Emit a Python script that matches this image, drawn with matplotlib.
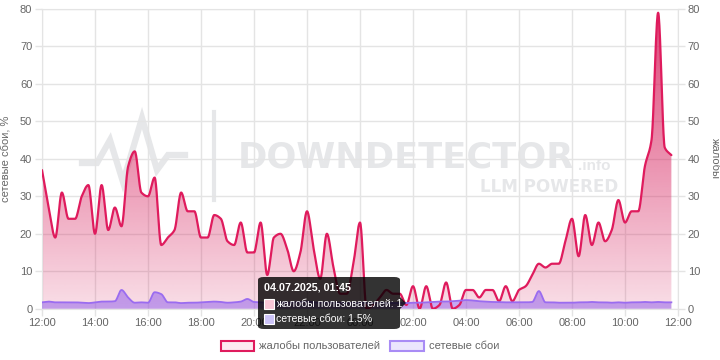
import numpy as np
import matplotlib
matplotlib.use("Agg")
import matplotlib.pyplot as plt
from matplotlib.patches import Patch, FancyBboxPatch, Polygon, Rectangle
from matplotlib.lines import Line2D

# ---------------- data (15-minute steps from 12:00 to 11:45 next day) -------------
complaints = [37, 27, 19, 31, 24, 24, 30, 33, 20, 33, 21, 27, 22, 38, 42, 31,
              30, 35, 17, 19, 21, 31, 26, 26, 19, 19, 25, 24, 18, 17, 23, 15,
              15, 23, 9, 19, 20, 16, 10, 15, 26, 16, 8, 20, 11, 4, 4, 12,
              23, 0, 1, 3, 5, 4, 4, 1, 6, 0, 6, 0, 1, 7, 0, 1,
              5, 5, 3, 5, 5, 2, 6, 2, 5, 6, 9, 12, 11, 12, 12, 18,
              24, 14, 25, 17, 23, 18, 21, 29, 23, 26, 26, 38, 45, 79, 43, 41]
network = [1.7, 1.9, 1.7, 1.7, 1.7, 1.7, 1.6, 1.5, 1.7, 1.9, 1.9, 2.0, 5.0, 3.0, 1.6, 1.7,
           1.6, 4.4, 3.9, 1.7, 1.7, 1.5, 1.6, 1.6, 1.7, 1.8, 1.9, 1.8, 1.6, 1.7, 1.9, 2.6,
           1.8, 1.7, 1.6, 1.7, 1.7, 1.6, 1.7, 1.8, 1.9, 1.7, 1.6, 1.7, 1.6, 1.6, 1.5, 1.6,
           1.6, 1.5, 1.5, 1.5, 1.5, 1.5, 1.5, 1.5, 1.6, 1.6, 1.7, 1.8, 1.9, 1.9, 2.0, 2.1,
           2.3, 2.2, 2.0, 1.9, 1.8, 1.8, 1.7, 1.7, 1.7, 1.7, 1.8, 4.7, 1.7, 1.7, 1.6, 1.6,
           1.6, 1.7, 1.7, 1.8, 1.7, 1.7, 1.6, 1.7, 1.6, 1.7, 1.7, 1.8, 1.7, 1.8, 1.7, 1.7]
step_hours = 0.25
x_tick_labels = ["12:00", "14:00", "16:00", "18:00", "20:00", "22:00", "00:00",
                 "02:00", "04:00", "06:00", "08:00", "10:00", "12:00"]
y_ticks = [0, 10, 20, 30, 40, 50, 60, 70, 80]
series_names = ["жалобы пользователей", "сетевые сбои"]
left_title = "сетевые сбои, %"
right_title = "жалобы"
tooltip_title = "04.07.2025, 01:45"
tooltip_lines = ["жалобы пользователей: 1", "сетевые сбои: 1.5%"]

FONT = ["Liberation Sans", "DejaVu Sans"]
plt.rcParams["font.family"] = FONT

PINK = "#df1b5d"
PURPLE = "#9a6cf0"
GRID = "#e4e4e4"
TXT = "#666666"


def monotone(x, y, xs):
    x = np.asarray(x, float); y = np.asarray(y, float)
    h = np.diff(x); d = np.diff(y) / h
    n = len(x); m = np.zeros(n)
    m[0] = d[0]; m[-1] = d[-1]
    for k in range(1, n - 1):
        if d[k - 1] * d[k] <= 0:
            m[k] = 0.0
        else:
            w1 = 2 * h[k] + h[k - 1]; w2 = h[k] + 2 * h[k - 1]
            m[k] = (w1 + w2) / (w1 / d[k - 1] + w2 / d[k])
    idx = np.clip(np.searchsorted(x, xs) - 1, 0, n - 2)
    t = (xs - x[idx]) / h[idx]
    h00 = 2 * t**3 - 3 * t**2 + 1; h10 = t**3 - 2 * t**2 + t
    h01 = -2 * t**3 + 3 * t**2; h11 = t**3 - t**2
    return h00 * y[idx] + h10 * h[idx] * m[idx] + h01 * y[idx + 1] + h11 * h[idx] * m[idx + 1]


fig = plt.figure(figsize=(7.2, 3.6), dpi=100)
ax = fig.add_axes([42 / 720, 1 - 308.7 / 360, 636 / 720, 299.7 / 360])

x = np.arange(len(complaints)) * step_hours
xs = np.linspace(x[0], x[-1], 2000)
yc = monotone(x, complaints, xs)
yn = monotone(x, network, xs)


def gradient_fill(xv, yv, rgb, a_bot, a_top, z):
    verts = [(xv[0], 0)] + list(zip(xv, yv)) + [(xv[-1], 0)]
    poly = Polygon(verts, closed=True, facecolor="none", edgecolor="none")
    ax.add_patch(poly)
    g = np.zeros((256, 1, 4))
    g[:, 0, :3] = np.array(rgb) / 255.0
    g[:, 0, 3] = np.linspace(a_bot, a_top, 256)
    im = ax.imshow(g, extent=[xv[0], xv[-1], 0, 80], origin="lower",
                   aspect="auto", zorder=z, interpolation="bilinear")
    im.set_clip_path(poly)


gradient_fill(xs, yc, (215, 35, 95), 0.15, 0.85, 2)
ax.plot(xs, yc, color=PINK, lw=1.6, zorder=4, solid_capstyle="round")
gradient_fill(xs, yn, (150, 100, 235), 0.55, 0.75, 3)
ax.plot(xs, yn, color=PURPLE, lw=1.3, zorder=4)

ax.set_xlim(0, 24)
ax.set_ylim(0, 80)
ax.set_xticks(np.arange(0, 25, 2))
ax.set_xticklabels(x_tick_labels)
ax.set_yticks(y_ticks)
ax.grid(True, color=GRID, lw=1, zorder=0)
ax.set_axisbelow(True)
for s in ax.spines.values():
    s.set_color(GRID)
ax.tick_params(colors=GRID, labelcolor=TXT, labelsize=8, length=5, width=1, pad=2)
ax.set_ylabel(left_title, color=TXT, fontsize=8, labelpad=7)

ax2 = ax.twinx()
ax2.set_ylim(0, 80)
ax2.set_yticks(y_ticks)
for s in ax2.spines.values():
    s.set_visible(False)
ax2.tick_params(colors=GRID, labelcolor=TXT, labelsize=8, length=5, width=1, pad=2)
ax2.set_ylabel(right_title, color=TXT, fontsize=8, rotation=270, labelpad=14)

# ---------------- watermark ----------------
WM = "#e6e7e9"
px = lambda X, Y: (X / 720, 1 - Y / 360)
logo = [(82, 163), (97, 163), (110, 140), (123, 182), (142, 118), (157, 170), (168, 155), (185, 155)]
fig.add_artist(Line2D([px(*p)[0] for p in logo], [px(*p)[1] for p in logo],
                      color=WM, lw=4.5, zorder=0.5, solid_joinstyle="miter"))
fig.add_artist(Line2D([px(214, 112)[0]] * 2, [px(214, 112)[1], px(214, 200)[1]],
                      color=WM, lw=3, zorder=0.5))
t = fig.text(*px(238, 157), "DOWNDETECTOR", fontsize=34, fontweight="bold",
             color=WM, ha="left", va="center", zorder=0.5, family=["DejaVu Sans"])
fig.canvas.draw()
w = t.get_window_extent().width
t.set_fontsize(34 * 337 / w)
fig.text(*px(578, 166), ".info", fontsize=11, fontweight="bold", color=WM,
         ha="left", va="center", zorder=0.5)
t2 = fig.text(*px(618, 187), "LLM POWERED", fontsize=14, fontweight="bold",
              color=WM, ha="right", va="center", zorder=0.5, family=["DejaVu Sans"])
fig.canvas.draw()
w2 = t2.get_window_extent().width
t2.set_fontsize(14 * 138 / w2)
ax.patch.set_alpha(0)
ax.set_zorder(1)
ax2.set_zorder(2)

# ---------------- legend ----------------
handles = [Patch(facecolor="#fdeaf1", edgecolor=PINK, lw=1.5),
           Patch(facecolor="#ebe6fd", edgecolor="#a98cf5", lw=1.5)]
fig.legend(handles, series_names, loc="center", bbox_to_anchor=(0.5, 1 - 346 / 360),
           ncol=2, frameon=False, fontsize=8, handlelength=3.0, handleheight=1.0,
           handletextpad=0.45, columnspacing=0.9, labelcolor=TXT)

# ---------------- tooltip ----------------
bx0, by0 = px(258, 329)
box = FancyBboxPatch((bx0, by0), 142 / 720, 52 / 360,
                     boxstyle="round,pad=0,rounding_size=0.008",
                     transform=fig.transFigure, facecolor=(0, 0, 0, 0.8),
                     edgecolor="none", zorder=10)
fig.add_artist(box)
tri = Polygon([px(400, 297), px(406, 303), px(400, 309)], closed=True,
              transform=fig.transFigure, facecolor=(0, 0, 0, 0.8), edgecolor="none", zorder=10)
fig.add_artist(tri)
fig.text(*px(264, 287), tooltip_title, color="white", fontsize=7.7, fontweight="bold",
         ha="left", va="center", zorder=11)
sw_cols = ["#f8c6d7", "#cbc3f7"]
for i, (txt, c) in enumerate(zip(tooltip_lines, sw_cols)):
    yy = 304 + i * 15
    r = Rectangle(px(264, yy + 5), 10 / 720, 10 / 360, transform=fig.transFigure,
                  facecolor=c, edgecolor="white", lw=0.8, zorder=11)
    fig.add_artist(r)
    fig.text(*px(276, yy), txt, color="white", fontsize=7.6, ha="left", va="center", zorder=11)

fig.savefig("out.png", dpi=100)
